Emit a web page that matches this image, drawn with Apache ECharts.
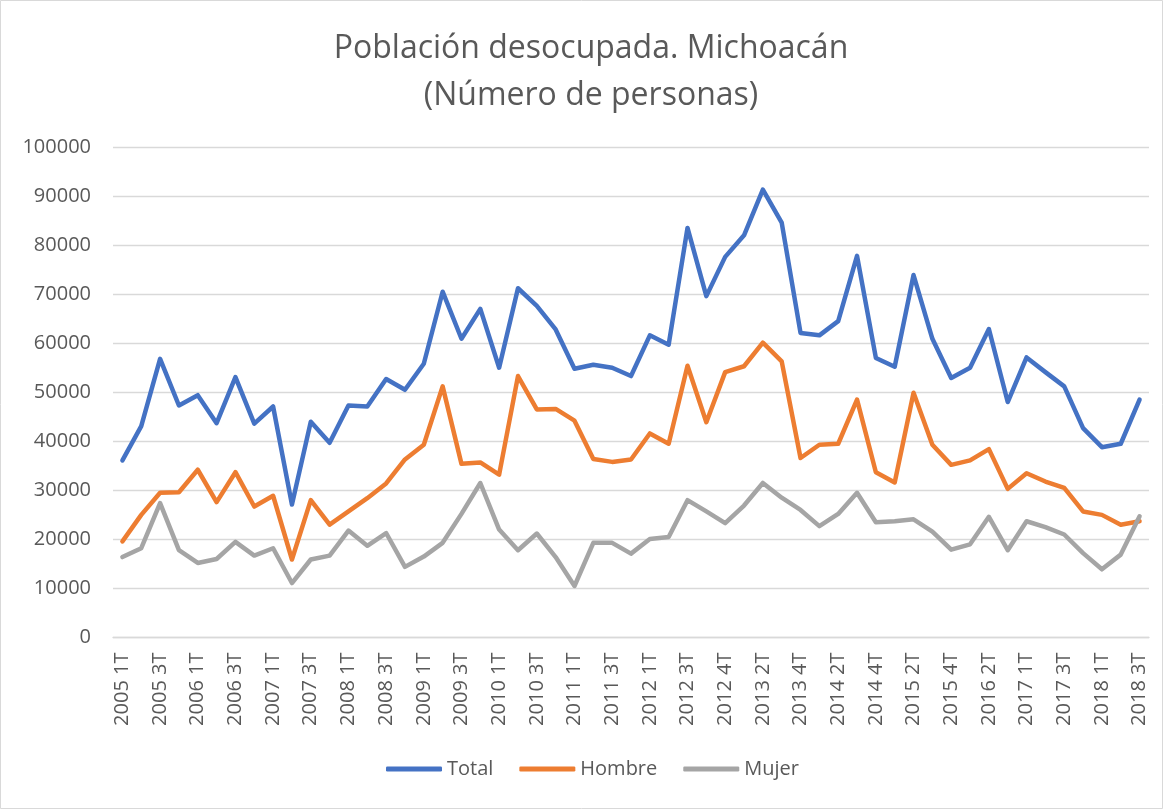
<!DOCTYPE html>
<html>
<head>
<meta charset="utf-8">
<script src="https://cdn.jsdelivr.net/npm/echarts@6/dist/echarts.min.js"></script>
<style>
html,body{margin:0;padding:0;background:#fff;}
#c{width:1164px;height:810px;}
</style>
</head>
<body>
<div id="c"></div>
<script>
const categories = [
  "2005 1T","2005 2T","2005 3T","2005 4T",
  "2006 1T","2006 2T","2006 3T","2006 4T",
  "2007 1T","2007 2T","2007 3T","2007 4T",
  "2008 1T","2008 2T","2008 3T","2008 4T",
  "2009 1T","2009 2T","2009 3T","2009 4T",
  "2010 1T","2010 2T","2010 3T","2010 4T",
  "2011 1T","2011 2T","2011 3T","2011 4T",
  "2012 1T","2012 2T","2012 3T","2012 3T-4T","2012 4T",
  "2013 1T","2013 2T","2013 3T","2013 4T",
  "2014 1T","2014 2T","2014 3T","2014 4T",
  "2015 1T","2015 2T","2015 3T","2015 4T",
  "2016 1T","2016 2T","2016 3T",
  "2017 1T","2017 2T","2017 3T","2017 4T",
  "2018 1T","2018 2T","2018 3T"
];
const total = [
  36100,43100,56800,47300,49400,43700,53100,43600,47100,27100,
  44000,39700,47300,47100,52700,50500,55800,70500,60900,67000,
  55000,71200,67600,62800,54800,55600,55000,53300,61600,59700,
  83500,69600,77600,82000,91300,84600,62100,61600,64500,77800,
  57000,55200,73900,60900,52900,55000,62900,48000,57100,54100,
  51200,42700,38800,39500,48500
];
const hombre = [
  19600,25000,29500,29600,34200,27600,33700,26700,28900,15900,
  28000,23000,25700,28400,31400,36300,39300,51200,35400,35700,
  33200,53300,46500,46600,44200,36400,35800,36300,41600,39500,
  55400,43900,54100,55300,60100,56300,36600,39300,39500,48500,
  33700,31600,49900,39300,35200,36100,38400,30300,33500,31800,
  30500,25700,25000,23000,23700
];
const mujer = [
  16400,18200,27400,17800,15200,16000,19500,16700,18200,11100,
  15900,16700,21800,18700,21300,14400,16500,19300,25200,31500,
  22000,17800,21200,16400,10500,19300,19300,17100,20100,20500,
  28000,25700,23300,26900,31500,28500,26000,22700,25200,29500,
  23500,23700,24100,21600,17900,19000,24600,17800,23700,22500,
  21000,17200,13900,16900,24700
];
const yTicks = {min:0, max:100000, interval:10000};

const FONT = '"Open Sans", "Liberation Sans", sans-serif';
const chart = echarts.init(document.getElementById('c'), null, {renderer:'canvas'});
function mk(name, data, color){
  return {
    name, type:'line', data, symbol:'none', smooth:false,
    lineStyle:{color, width:4.5, cap:'round', join:'round'},
    itemStyle:{color}
  };
}
chart.setOption({
  animation:false,
  backgroundColor:'#ffffff',
  title:{
    text:'Población desocupada. Michoacán\n(Número de personas)',
    left:586, top:20, textAlign:'center',
    textStyle:{fontFamily:FONT, fontWeight:'normal', fontSize:32, color:'#595959', lineHeight:47}
  },
  graphic:[{type:'rect', shape:{x:0.5,y:0.5,width:1162,height:808}, style:{fill:'none', stroke:'#d9d9d9', lineWidth:1}, silent:true}],
  legend:{
    bottom:26, left:381,
    icon:'roundRect', itemWidth:56, itemHeight:5, itemGap:26,
    textStyle:{fontFamily:FONT, fontSize:20, color:'#595959'},
    data:['Total','Hombre','Mujer']
  },
  grid:{left:113, right:15, top:147, bottom:172.5, containLabel:false},
  xAxis:{
    type:'category', data:categories, boundaryGap:true,
    axisLine:{lineStyle:{color:'#d9d9d9', width:1.3}},
    axisTick:{show:false},
    axisLabel:{
      interval:function(i){return i%2===0;},
      rotate:90, fontFamily:FONT, fontSize:20, color:'#595959', margin:15
    }
  },
  yAxis:{
    type:'value', min:yTicks.min, max:yTicks.max, interval:yTicks.interval,
    axisLine:{show:false}, axisTick:{show:false},
    splitLine:{lineStyle:{color:'#d9d9d9', width:1.3}},
    axisLabel:{fontFamily:FONT, fontSize:20, color:'#595959', margin:22, formatter:v=>String(v)}
  },
  series:[mk('Total', total, '#4472C4'), mk('Hombre', hombre, '#ED7D31'), mk('Mujer', mujer, '#A5A5A5')]
});
</script>
</body>
</html>
